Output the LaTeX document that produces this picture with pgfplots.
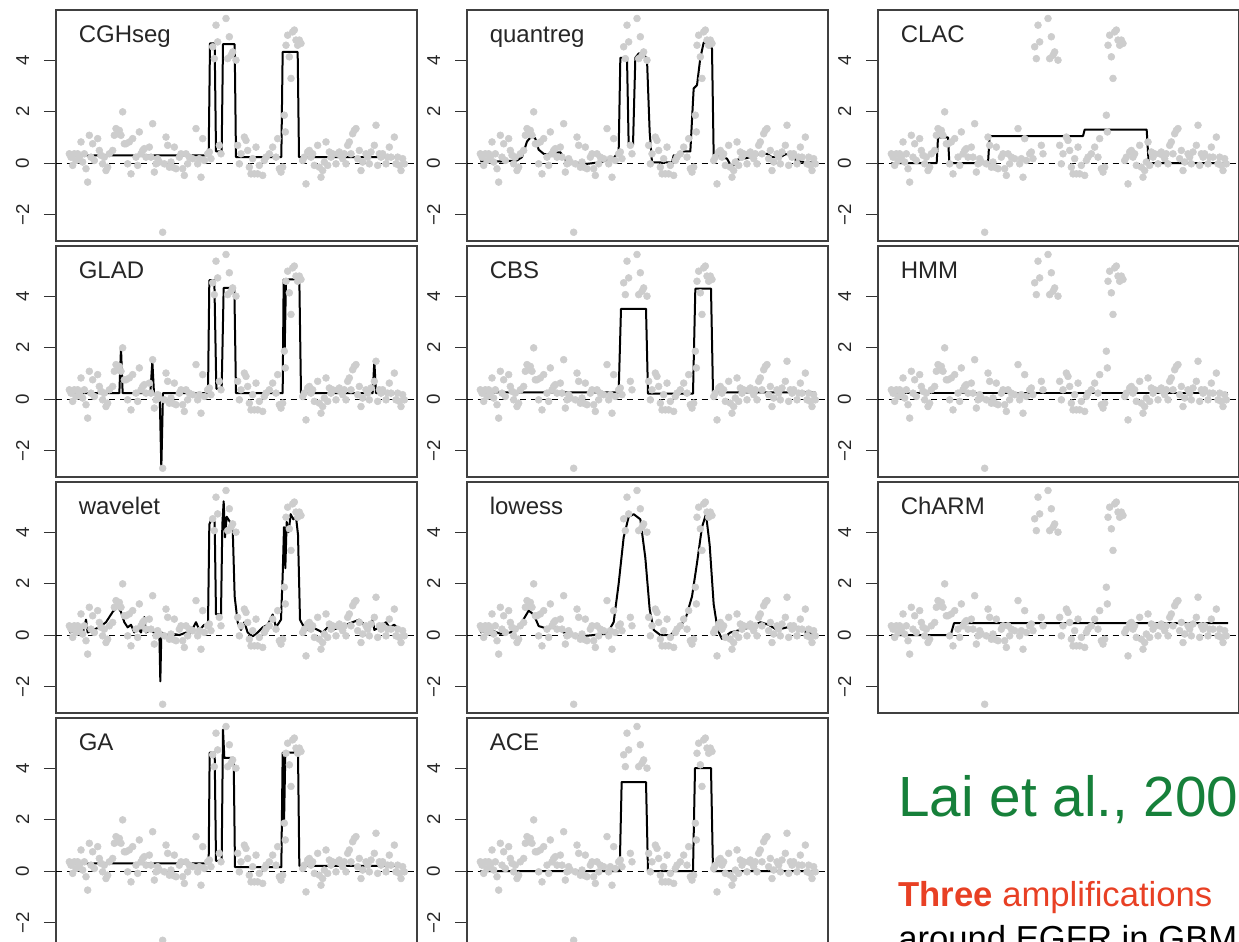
\documentclass[border=0pt]{standalone}
\usepackage{pgfplots}
\pgfplotsset{compat=1.18}
\usepackage{pgfplotstable}
\usepackage{fontspec}
\setmainfont{Liberation Sans}
\definecolor{ptgray}{RGB}{205,205,205}
\definecolor{laigreen}{RGB}{22,128,58}
\definecolor{ampred}{RGB}{232,64,36}

% log2 ratio along the chromosome, same data in every panel
\pgfplotstableread{
x y
40 0.36
45 0.23
50 -0.09
55 0.36
60 0.10
65 0.36
70 0.23
75 0.82
80 0.04
85 0.36
90 -0.22
95 -0.74
100 1.08
105 0.23
110 0.75
115 0.10
125 0.95
130 0.49
135 0.30
140 -0.03
145 0.23
150 -0.29
155 -0.16
160 0.36
170 0.49
175 1.08
180 1.34
185 1.14
190 1.27
195 1.08
200 1.99
205 0.75
210 0.75
215 -0.03
220 0.82
225 -0.42
230 0.95
240 0.23
245 -0.09
250 1.21
255 0.36
260 0.49
265 0.56
270 0.23
280 0.62
285 0.23
290 1.53
295 -0.35
300 -0.03
305 0.17
310 0.04
320 -2.69
325 -0.03
330 1.01
335 0.69
340 -0.16
345 0.04
350 -0.16
355 0.62
360 -0.22
370 0.23
375 0.36
380 -0.22
385 -0.48
390 0.36
395 -0.03
400 0.23
410 0.17
420 1.34
425 -0.03
430 0.17
435 -0.55
440 0.95
445 0.10
455 0.36
460 0.43
465 0.17
470 4.52
475 4.06
480 5.36
485 4.71
490 0.69
495 0.36
510 5.62
515 4.06
520 4.91
525 4.19
530 4.32
540 4.00
545 0.69
550 -0.03
555 0.36
565 1.01
570 0.88
575 0.49
580 -0.16
585 -0.42
590 0.17
595 -0.42
600 0.62
605 -0.42
610 -0.09
620 -0.48
625 0.10
630 0.23
640 0.36
650 0.62
660 0.23
665 0.95
670 -0.22
675 -0.35
680 -0.16
685 1.86
688 1.21
690 4.58
695 4.97
700 4.13
705 3.29
710 5.10
715 5.17
720 4.78
725 4.58
730 4.78
735 4.65
740 0.10
745 0.23
750 -0.81
755 0.43
760 0.49
765 0.23
770 0.36
775 -0.09
785 0.69
790 -0.16
795 -0.55
800 -0.29
805 0.04
810 0.82
815 -0.09
820 0.43
825 0.23
830 0.36
840 -0.03
845 0.36
850 0.43
855 0.30
860 0.17
865 0.36
870 -0.03
875 0.69
880 0.82
885 0.36
890 1.14
895 1.27
900 1.34
905 0.17
910 0.49
915 -0.29
920 0.04
930 0.36
935 0.23
940 -0.03
945 0.43
955 0.69
960 1.47
965 -0.09
970 0.36
975 0.23
980 0.36
990 -0.03
995 0.23
1000 0.62
1005 0.23
1015 1.01
1020 -0.03
1025 0.23
1030 -0.09
1035 -0.29
1040 0.17
1045 -0.03
}\pts

% segmentation fits
\pgfplotstableread{
x y
40 0.30
458 0.30
462 4.65
476 4.65
480 0.45
497 0.45
501 4.62
536 4.62
540 0.23
676 0.23
680 4.32
725 4.32
729 0.23
1045 0.23
}\cghseg
\pgfplotstableread{
x y
40 0.06
60 0.13
80 0.08
100 0.06
150 0.10
165 0.23
180 0.84
195 1.06
205 0.95
215 0.52
230 0.36
245 0.32
250 0.42
280 0.42
295 0.13
320 0.03
360 -0.03
400 0.03
440 0.19
455 0.45
460 4.09
480 4.09
485 0.71
498 0.71
505 4.09
515 4.26
530 4.26
540 4.03
548 1.2
555 0.03
615 0.03
620 0.30
640 0.32
650 0.45
670 0.45
680 2.90
690 3.03
700 4.09
710 4.68
725 4.70
735 4.44
740 0.30
760 0.27
780 0.17
790 -0.06
800 -0.10
810 0.13
830 0.17
850 0.23
870 0.34
900 0.36
915 0.23
940 0.23
955 0.34
970 0.36
985 0.13
1000 0.06
1020 0.03
1045 0.03
}\quantreg
\pgfplotstableread{
x y
40 0
176 0
180 1.0
210 1.0
214 0
330 0
335 1.05
615 1.05
620 1.3
806 1.3
812 0
1048 0
}\clac
\pgfplotstableread{
x y
40 0.23
190 0.23
195 1.99
200 0.23
283 0.23
289 1.47
294 0.23
311 0.23
316 -2.69
321 0.23
456 0.23
460 4.62
475 4.62
481 0.40
497 0.40
503 4.32
535 4.32
540 0.23
680 0.23
683 4.65
686 1.86
690 4.65
730 4.65
735 0.23
950 0.23
955 1.47
960 0.23
1045 0.23
}\glad
\pgfplotstableread{
x y
40 0.26
455 0.26
462 3.51
537 3.51
543 0.21
678 0.21
685 4.29
732 4.29
738 0.26
1045 0.26
}\cbs
\pgfplotstableread{
x y
40 0.23
1050 0.23
}\hmm
\pgfplotstableread{
x y
40 0.1
60 0.15
80 0.05
90 0.6
95 0.1
110 0.2
130 0.3
150 0.5
170 0.9
185 1.1
195 0.9
205 0.5
215 0.3
225 0.4
235 0.1
245 0.3
255 0.1
265 0.7
270 0.1
285 0.2
300 0.0
310 0.1
313 -1.8
316 0.1
330 0.0
350 0.05
370 0.0
390 0.1
400 0.0
420 0.5
430 0.2
445 0.4
456 0.4
460 4.3
466 4.5
476 4.4
480 0.8
495 0.8
499 4.3
503 5.2
507 3.8
512 4.6
522 4.4
530 4.2
536 1.5
545 0.5
555 0.2
565 0.5
575 0.1
590 -0.05
605 0.1
620 0.3
635 0.4
650 0.8
660 0.3
675 0.6
680 2.3
684 4.2
688 2.6
692 4.4
698 4.0
704 4.7
712 4.5
720 4.6
726 3.9
732 0.6
740 0.4
755 0.2
770 0.3
785 0.2
800 0.1
815 0.3
830 0.2
850 0.3
870 0.4
890 0.5
910 0.6
925 0.4
940 0.3
950 0.6
955 0.2
970 0.3
990 0.5
1000 0.3
1015 0.4
1030 0.2
1045 0.2
}\wavelet
\pgfplotstableread{
x y
40 0.1
70 0.2
100 0.05
130 0.1
160 0.4
185 0.95
200 0.8
215 0.35
240 0.25
265 0.3
290 0.1
310 0.0
340 -0.05
380 0.0
420 0.05
440 0.5
455 2.0
470 3.8
485 4.6
500 4.7
520 4.5
535 3.0
548 1.0
560 0.2
580 0.0
610 0.0
635 0.3
655 0.6
675 1.5
690 2.8
705 4.2
717 4.7
728 3.5
740 1.2
752 0.2
765 -0.15
790 0.1
820 0.2
850 0.3
880 0.5
905 0.4
930 0.2
960 0.3
990 0.3
1020 0.1
1045 0.0
}\lowess
\pgfplotstableread{
x y
40 0
218 0
228 0.46
1050 0.46
}\charm
\pgfplotstableread{
x y
40 0.3
458 0.3
461 4.6
476 4.6
480 0.4
497 0.4
501 5.5
505 4.4
533 4.4
537 0.15
676 0.15
680 4.6
684 1.8
688 4.6
726 4.6
730 0.2
1045 0.2
}\ga
\pgfplotstableread{
x y
40 0
458 0
464 3.46
537 3.46
543 0
678 0
684 4.0
732 4.0
738 0
1045 0
}\ace

\pgfplotsset{
  panel/.style={
    scale only axis, width=361*0.75pt, height=231*0.75pt, anchor=north west,
    xmin=0, xmax=1083, ymin=-3.03, ymax=5.95,
    xtick=\empty, ytick={-2,0,2,4}, yticklabels={−2,0,2,4},
    ytick pos=left, tick align=outside, major tick length=9pt,
    tick style={black!80, line width=0.75pt},
    axis line style={black!75, line width=0.9pt},
    yticklabel style={rotate=90, anchor=south, inner sep=0pt,
      font=\fontsize{14}{14}\selectfont, text=black!85},
    yticklabel shift=11pt,
  },
}
\newcommand{\panel}[4]{%
\begin{axis}[panel, at={(#1*0.75pt,-#2*0.75pt)}]
\addplot[only marks, mark=*, mark size=2.6pt, color=ptgray, mark options={draw=none}] table {\pts};
\addplot[black, line width=0.6pt, dash pattern=on 4.5pt off 3.5pt] coordinates {(0,0) (1083,0)};
\addplot[black, line width=1.5pt, line join=round] table {#4};
\node[anchor=base west, font=\fontsize{18}{18}\selectfont, text=black!85] at (rel axis cs:0.05,0.861) {#3};
\end{axis}}

\begin{document}
\begin{tikzpicture}
\useasboundingbox (0,0) rectangle (1239*0.75pt,-942*0.75pt);
\clip (0,0) rectangle (1239*0.75pt,-942*0.75pt);
\panel{56}{10}{CGHseg}{\cghseg}
\panel{467}{10}{quantreg}{\quantreg}
\panel{878}{10}{CLAC}{\clac}
\panel{56}{246}{GLAD}{\glad}
\panel{467}{246}{CBS}{\cbs}
\panel{878}{246}{HMM}{\hmm}
\panel{56}{482}{wavelet}{\wavelet}
\panel{467}{482}{lowess}{\lowess}
\panel{878}{482}{ChARM}{\charm}
\panel{56}{718}{GA}{\ga}
\panel{467}{718}{ACE}{\ace}
\node[anchor=base west, inner sep=0pt, text=laigreen, font=\fontsize{42.5}{42.5}\selectfont]
  at (898*0.75pt,-816*0.75pt) {Lai et al., 2005};
\node[anchor=base west, inner sep=0pt, text=ampred, font=\fontsize{26}{26}\selectfont]
  at (898*0.75pt,-906*0.75pt) {\textbf{Three} amplifications};
\node[anchor=base west, inner sep=0pt, text=black, font=\fontsize{26}{26}\selectfont]
  at (898*0.75pt,-950*0.75pt) {around EGFR in GBM};
\end{tikzpicture}
\end{document}
